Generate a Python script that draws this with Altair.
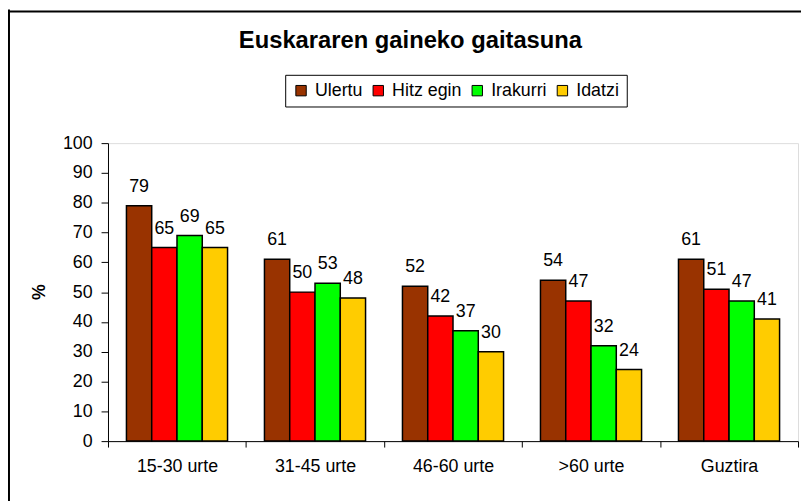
import altair as alt
import pandas as pd

categories = ["15-30 urte", "31-45 urte", "46-60 urte", ">60 urte", "Guztira"]
series = ["Ulertu", "Hitz egin", "Irakurri", "Idatzi"]
ulertu = [79, 61, 52, 54, 61]
hitz_egin = [65, 50, 42, 47, 51]
irakurri = [69, 53, 37, 32, 47]
idatzi = [65, 48, 30, 24, 41]
colors = ["#993300", "#FF0000", "#00FF00", "#FFCC00"]
y_ticks = list(range(0, 101, 10))
title_text = "Euskararen gaineko gaitasuna"
y_title = "%"

rows = []
for s, vals in zip(series, [ulertu, hitz_egin, irakurri, idatzi]):
    for c, v in zip(categories, vals):
        rows.append({"category": c, "series": s, "value": v})
df = pd.DataFrame(rows)

FONT = "Liberation Sans"
W, H = 697, 301

x_enc = alt.X(
    "category:N", sort=categories, title=None,
    scale=alt.Scale(paddingInner=0, paddingOuter=0),
    axis=alt.Axis(labelAngle=0, tickBand="extent", labelFontSize=18, labelFont=FONT,
                  labelColor="black", domainColor="black", tickColor="black",
                  tickSize=6, labelPadding=11, grid=False, domainWidth=1),
)
xoff_enc = alt.XOffset("series:N", sort=series,
                       scale=alt.Scale(paddingInner=0, paddingOuter=0.73))
y_enc = alt.Y(
    "value:Q", scale=alt.Scale(domain=[0, 100]),
    axis=alt.Axis(values=y_ticks, title=y_title, grid=False, labelFontSize=18,
                  labelFont=FONT, labelColor="black", domainColor="black",
                  tickColor="black", tickSize=7, labelPadding=9,
                  titleFont=FONT, titleFontSize=18, titleFontWeight="bold",
                  titleColor="black", titleAngle=270, titleX=-69, titleY=150,
                  titleAlign="center", titleBaseline="middle"),
)

base = alt.Chart(df).encode(x=x_enc, xOffset=xoff_enc, y=y_enc)

bars = base.mark_bar(stroke="black", strokeWidth=1.5).encode(
    color=alt.Color(
        "series:N", sort=series,
        scale=alt.Scale(domain=series, range=colors),
        legend=alt.Legend(
            orient="none", legendX=179, legendY=-69, direction="horizontal",
            columns=4, title=None, symbolType="square", symbolSize=110,
            symbolStrokeColor="black", symbolStrokeWidth=1, symbolOpacity=1,
            labelFontSize=18, labelFont=FONT, labelColor="black",
            strokeColor="black", fillColor="white", padding=7,
            columnPadding=6, labelOffset=5,
        ),
    )
)

labels = base.mark_text(baseline="alphabetic", dy=-14, fontSize=18, font=FONT,
                        color="black").encode(text="value:Q")

title_mark = alt.Chart(pd.DataFrame({"t": [title_text]})).mark_text(
    font=FONT, fontSize=24, fontWeight="bold", color="black",
    align="center", baseline="alphabetic",
).encode(text="t:N", x=alt.value(305.5), y=alt.value(-96))

frame_df = pd.DataFrame({"k": [0]})
frame_left = alt.Chart(frame_df).mark_rule(color="black", strokeWidth=2).encode(
    x=alt.value(-100), y=alt.value(-135), y2=alt.value(H + 80))
frame_top = alt.Chart(frame_df).mark_rule(color="black", strokeWidth=2).encode(
    y=alt.value(-133), x=alt.value(-101), x2=alt.value(W + 20))

chart = alt.layer(frame_left, frame_top, bars, labels, title_mark).properties(
    width=W, height=H,
    autosize=alt.AutoSizeParams(type="none"),
    padding={"left": 101, "top": 134, "right": 3, "bottom": 58},
).configure_view(
    fill="#C0C0C0", stroke="#808080", strokeWidth=1,
).configure(background="white")

chart.save("out.html", embed_options={"renderer": "svg", "actions": False})
